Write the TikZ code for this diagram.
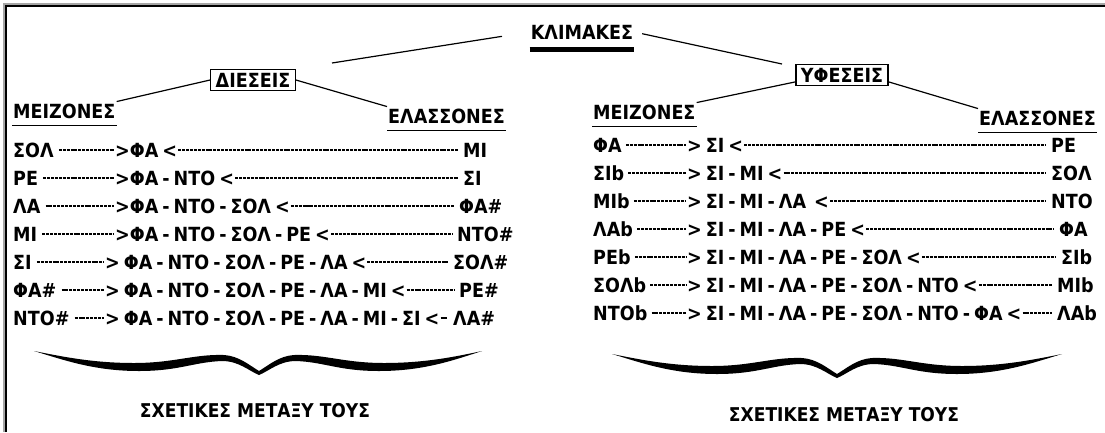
\documentclass[tikz,border=0pt]{standalone}
\usepackage{fontspec}
\setmainfont{DejaVu Sans Condensed}
\usetikzlibrary{positioning}
\newcommand{\rowfont}{\fontsize{19.5}{23}\selectfont\bfseries}
\newcommand{\notefont}{\fontsize{19}{22}\selectfont\bfseries}
\newcommand{\gap}{5pt}

\tikzset{
  word/.style={font=\rowfont, inner xsep=1pt, inner ysep=2pt, text height=14.5pt, text depth=0pt},
  keyword/.style={word, anchor=west},
  chainword/.style={keyword, execute at begin node={\spaceskip=4pt plus 1pt\relax}},
  boxword/.style={word, draw, line width=1.3pt, inner xsep=5pt, inner ysep=3pt},
  dashline/.style={line width=1.4pt, dash pattern=on 3pt off 0.9pt},
  link/.style={line width=1.2pt},
  underl/.style={line width=1.5pt},
}

\begin{document}
\begin{tikzpicture}[x=1pt,y=-1pt]
\useasboundingbox (0,0) rectangle (1105,432);
%frame
\draw[black!35, line width=3pt] (4,432) -- (4,4) -- (1105,4);
\draw[line width=1.6pt] (6,432) -- (6,6) -- (1105,6);

%title
\node[word] (k) at (582,32) {ΚΛΙΜΑΚΕΣ};
\draw[line width=5pt] ([yshift=-8pt]k.south west) -- ([yshift=-8pt]k.south east);
\coordinate (kl) at (332,63);
\coordinate (kr) at (782,64);
\draw[link, shorten <=28pt] (k.west) -- (kl);
\draw[link, shorten <=8pt] (k.east) -- (kr);

%sharps
\node[boxword] (d) at (253,80) {ΔΙΕΣΕΙΣ};
\node[keyword] (m1) at (12,111) {ΜΕΙΖΟΝΕΣ};
\node[keyword] (e1) at (387,116) {ΕΛΑΣΣΟΝΕΣ};
\draw[underl] ([yshift=-\gap]m1.south west) -- ([yshift=-\gap]m1.south east);
\draw[underl] ([yshift=-\gap]e1.south west) -- ([yshift=-\gap]e1.south east);
\draw[link] (m1.north east) -- (d.west);
\draw[link] (d.east) -- (e1.north west);

%flats
\node[boxword] (y) at (842,75) {ΥΦΕΣΕΙΣ};
\node[keyword] (m2) at (592,112) {ΜΕΙΖΟΝΕΣ};
\node[keyword] (e2) at (978,118) {ΕΛΑΣΣΟΝΕΣ};
\draw[underl] ([yshift=-\gap]m2.south west) -- ([yshift=-\gap]m2.south east);
\draw[underl] ([yshift=-\gap]e2.south west) -- ([yshift=-\gap]e2.south east);
\draw[link] ([yshift=4pt]y.south west) -- (m2.north east);
\draw[link] ([yshift=4pt]y.south east) -- (e2.north west);

%left rows
\node[keyword] (l1k) at (12,150) {ΣΟΛ};
\node[chainword] (l1c) at (114,150) {>ΦΑ <};
\node[keyword] (l1e) at (462,150) {ΜΙ};
\node[keyword] (l2k) at (12,178) {ΡΕ};
\node[chainword] (l2c) at (114,178) {>ΦΑ - ΝΤΟ <};
\node[keyword] (l2e) at (462,178) {ΣΙ};
\node[keyword] (l3k) at (12,206) {ΛΑ};
\node[chainword] (l3c) at (114,206) {>ΦΑ - ΝΤΟ - ΣΟΛ <};
\node[keyword] (l3e) at (458,206) {ΦΑ\#};
\node[keyword] (l4k) at (12,234) {ΜΙ};
\node[chainword] (l4c) at (114,234) {>ΦΑ - ΝΤΟ - ΣΟΛ - ΡΕ <};
\node[keyword] (l4e) at (456,234) {ΝΤΟ\#};
\node[keyword] (l5k) at (12,262) {ΣΙ};
\node[chainword] (l5c) at (104,262) {> ΦΑ - ΝΤΟ - ΣΟΛ - ΡΕ - ΛΑ <};
\node[keyword] (l5e) at (452,262) {ΣΟΛ\#};
\node[keyword] (l6k) at (12,290) {ΦΑ\#};
\node[chainword] (l6c) at (104,290) {> ΦΑ - ΝΤΟ - ΣΟΛ - ΡΕ - ΛΑ - ΜΙ <};
\node[keyword] (l6e) at (458,290) {ΡΕ\#};
\node[keyword] (l7k) at (12,318) {ΝΤΟ\#};
\node[chainword] (l7c) at (104,318) {> ΦΑ - ΝΤΟ - ΣΟΛ - ΡΕ - ΛΑ - ΜΙ - ΣΙ <};
\node[keyword] (l7e) at (452,318) {ΛΑ\#};
\foreach \i in {1,...,7}{
  \draw[dashline] ([xshift=4pt]l\i k.east) -- (l\i c.west);
  \draw[dashline] (l\i c.east) -- ([xshift=-4pt]l\i e.west);
}

%right rows
\node[keyword] (r1k) at (592,145) {ΦΑ};
\node[chainword] (r1c) at (686,145) {> ΣΙ <};
\node[keyword] (r1e) at (1050,145) {ΡΕ};
\node[keyword] (r2k) at (592,173) {ΣΙb};
\node[chainword] (r2c) at (686,173) {> ΣΙ - ΜΙ <};
\node[keyword] (r2e) at (1050,173) {ΣΟΛ};
\node[keyword] (r3k) at (592,201) {ΜΙb};
\node[chainword] (r3c) at (686,201) {> ΣΙ - ΜΙ - ΛΑ\ \ <};
\node[keyword] (r3e) at (1050,201) {ΝΤΟ};
\node[keyword] (r4k) at (592,229) {ΛΑb};
\node[chainword] (r4c) at (686,229) {> ΣΙ - ΜΙ - ΛΑ - ΡΕ <};
\node[keyword] (r4e) at (1058,229) {ΦΑ};
\node[keyword] (r5k) at (592,257) {ΡΕb};
\node[chainword] (r5c) at (686,257) {> ΣΙ - ΜΙ - ΛΑ - ΡΕ - ΣΟΛ <};
\node[keyword] (r5e) at (1060,257) {ΣΙb};
\node[keyword] (r6k) at (592,285) {ΣΟΛb};
\node[chainword] (r6c) at (686,285) {> ΣΙ - ΜΙ - ΛΑ - ΡΕ - ΣΟΛ - ΝΤΟ <};
\node[keyword] (r6e) at (1056,285) {ΜΙb};
\node[keyword] (r7k) at (592,313) {ΝΤΟb};
\node[chainword] (r7c) at (686,313) {> ΣΙ - ΜΙ - ΛΑ - ΡΕ - ΣΟΛ - ΝΤΟ - ΦΑ <};
\node[keyword] (r7e) at (1056,313) {ΛΑb};
\foreach \i in {1,...,7}{
  \draw[dashline] ([xshift=3pt]r\i k.east) -- (r\i c.west);
  \draw[dashline] (r\i c.east) -- ([xshift=-4pt]r\i e.west);
}

%braces
\begin{scope}[shift={(34,351)}]
\fill (0,0) .. controls (30,6) and (60,12) .. (100,12) .. controls (140,12) and (160,3) .. (190,4)
  .. controls (205,5) and (215,14) .. (225,20) .. controls (235,14) and (245,5) .. (260,4)
  .. controls (290,3) and (310,12) .. (350,12) .. controls (390,12) and (420,6) .. (448,0)
  .. controls (420,9) and (390,20) .. (345,20) .. controls (305,20) and (290,11) .. (262,10)
  .. controls (245,10) and (235,20) .. (225,24) .. controls (215,20) and (205,10) .. (188,10)
  .. controls (160,11) and (145,20) .. (105,20) .. controls (60,20) and (30,9) .. (0,0) -- cycle;
\end{scope}
\begin{scope}[shift={(612,354)}]
\fill (0,0) .. controls (30,6) and (60,12) .. (100,12) .. controls (140,12) and (160,3) .. (190,4)
  .. controls (205,5) and (215,14) .. (225,20) .. controls (235,14) and (245,5) .. (260,4)
  .. controls (290,3) and (310,12) .. (350,12) .. controls (390,12) and (420,6) .. (450,0)
  .. controls (420,9) and (390,20) .. (345,20) .. controls (305,20) and (290,11) .. (262,10)
  .. controls (245,10) and (235,20) .. (225,24) .. controls (215,20) and (205,10) .. (188,10)
  .. controls (160,11) and (145,20) .. (105,20) .. controls (60,20) and (30,9) .. (0,0) -- cycle;
\end{scope}

%notes
\node[word, font=\notefont] (n1) at (255,410) {ΣΧΕΤΙΚΕΣ ΜΕΤΑΞΥ ΤΟΥΣ};
\node[word, font=\notefont] (n2) at (844,414) {ΣΧΕΤΙΚΕΣ ΜΕΤΑΞΥ ΤΟΥΣ};
\end{tikzpicture}
\end{document}
